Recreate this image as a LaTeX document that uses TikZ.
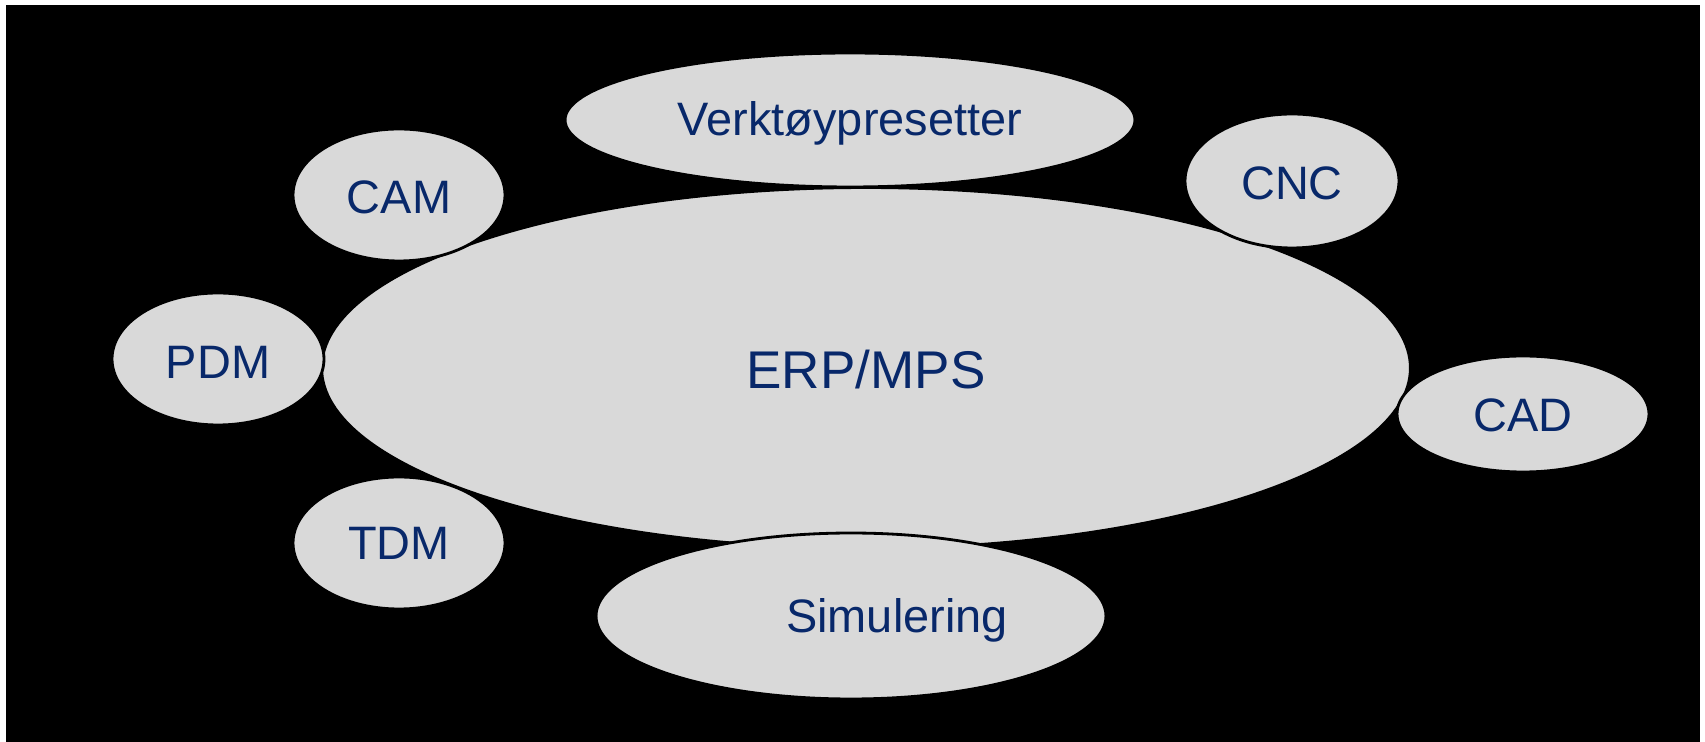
\documentclass[tikz,border=0pt]{standalone}
\usepackage{fontspec}
\setmainfont{Liberation Sans}
\usetikzlibrary{shapes.geometric}
\definecolor{blobfill}{HTML}{D9D9D9}
\definecolor{navy}{HTML}{08286A}
\tikzset{
  blob/.style={ellipse, draw=black, line width=1.6pt, fill=blobfill, inner sep=0pt},
  lab/.style={text=navy, font=\fontsize{26.7}{30}\selectfont, inner sep=0pt},
  biglab/.style={text=navy, font=\fontsize{30.2}{34}\selectfont, inner sep=0pt}
}
\begin{document}
\begin{tikzpicture}[x=0.02cm,y=-0.02cm]
\useasboundingbox (0,0) rectangle (1705,742);
\fill[white] (0,0) rectangle (1705,742);
\fill[black] (6,5) rectangle (1700,742);
\node[blob, minimum width=21.78cm, minimum height=7.22cm] (erp) at (866,368) {};
\node[blob, minimum width=11.4cm, minimum height=2.68cm] (verk) at (850,120) {};
\node[blob, minimum width=4.24cm, minimum height=2.64cm] (cam) at (399,195) {};
\node[blob, minimum width=4.28cm, minimum height=2.68cm] (cnc) at (1292,181) {};
\node[blob, minimum width=4.24cm, minimum height=2.64cm] (pdm) at (218,359) {};
\node[blob, minimum width=5.04cm, minimum height=2.32cm] (cad) at (1523,414) {};
\node[blob, minimum width=4.24cm, minimum height=2.64cm] (tdm) at (399,543) {};
\node[blob, minimum width=10.2cm, minimum height=3.32cm] (sim) at (851,616) {};
\node[biglab] (terp) at (866,370) {ERP/MPS};
\node[lab] (tverk) at (850,123) {Verktøypresetter};
\node[lab] (tcam) at (399,197) {CAM};
\node[lab] (tcnc) at (1292,183) {CNC};
\node[lab] (tpdm) at (218,362) {PDM};
\node[lab] (tcad) at (1523,415) {CAD};
\node[lab] (ttdm) at (399,543) {TDM};
\node[lab] (tsim) at (897,620) {Simulering};
\end{tikzpicture}
\end{document}
